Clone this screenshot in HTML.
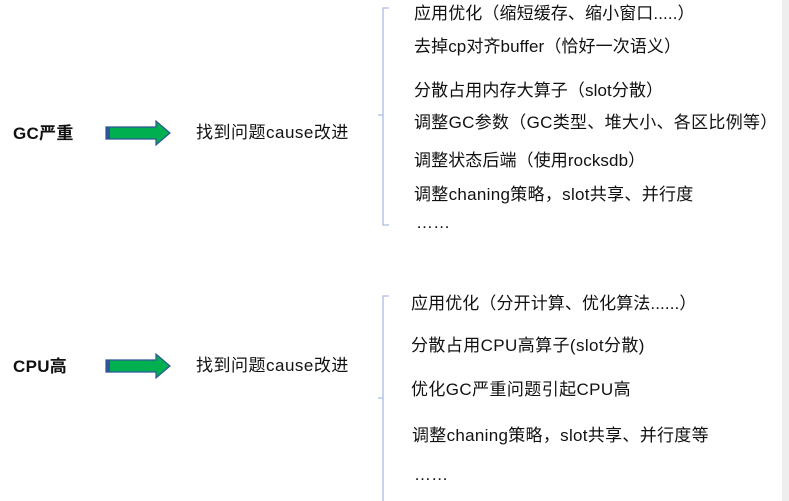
<!DOCTYPE html>
<html><head><meta charset="utf-8"><style>
html,body{margin:0;padding:0;background:#fff;}
body{width:789px;height:501px;position:relative;overflow:hidden;font-family:"Liberation Sans","Noto Sans CJK SC",sans-serif;color:#111;}
.t{position:absolute;font-size:17px;line-height:20px;white-space:nowrap;letter-spacing:0.1px;}
.b{font-weight:bold;letter-spacing:0.3px;}
.w{letter-spacing:0.5px;}
</style></head><body>
<div style="position:absolute;left:782px;top:0;width:7px;height:501px;background:#eeeeee"></div>
<svg width="789" height="501" style="position:absolute;left:0;top:0">
 <g fill="#00b050" stroke="#2f5597" stroke-width="1.2">
  <polygon points="106,127 156,127 156,121 170,133 156,145 156,139 106,139"/>
  <polygon points="106,360 156,360 156,354 170,366 156,378 156,372 106,372"/>
 </g>
 <rect x="106" y="127" width="4" height="12" fill="#2f5597"/>
 <rect x="106" y="360" width="4" height="12" fill="#2f5597"/>
 <g stroke="#a9bde0" stroke-width="1.3" fill="none">
  <path d="M389,8 L383,8 L383,225 L389,225 M383,115 L378,115"/>
  <path d="M389,296 L383,296 L383,501 M383,398 L378,398"/>
 </g>
</svg>
<div class="t b" style="left:13px;top:124px">GC严重</div>
<div class="t b" style="left:13px;top:357px">CPU高</div>
<div class="t w" style="left:196px;top:123px">找到问题cause改进</div>
<div class="t w" style="left:196px;top:356px">找到问题cause改进</div>

<div class="t" style="left:414px;top:4px">应用优化（缩短缓存、缩小窗口.....）</div>
<div class="t" style="left:414px;top:37px">去掉cp对齐buffer（恰好一次语义）</div>
<div class="t" style="left:414px;top:81px">分散占用内存大算子（slot分散）</div>
<div class="t" style="left:414px;top:113px;letter-spacing:0.3px">调整GC参数（GC类型、堆大小、各区比例等）</div>
<div class="t" style="left:414px;top:151px">调整状态后端（使用rocksdb）</div>
<div class="t" style="left:414px;top:185px;letter-spacing:0.3px">调整chaning策略，slot共享、并行度</div>
<div class="t" style="left:416px;top:213px">……</div>

<div class="t" style="left:411px;top:294px">应用优化（分开计算、优化算法......）</div>
<div class="t" style="left:411px;top:336px;letter-spacing:0.4px">分散占用CPU高算子(slot分散)</div>
<div class="t" style="left:411px;top:380px;letter-spacing:0.4px">优化GC严重问题引起CPU高</div>
<div class="t" style="left:412px;top:426px;letter-spacing:0.3px">调整chaning策略，slot共享、并行度等</div>
<div class="t" style="left:414px;top:465px">……</div>
</body></html>
